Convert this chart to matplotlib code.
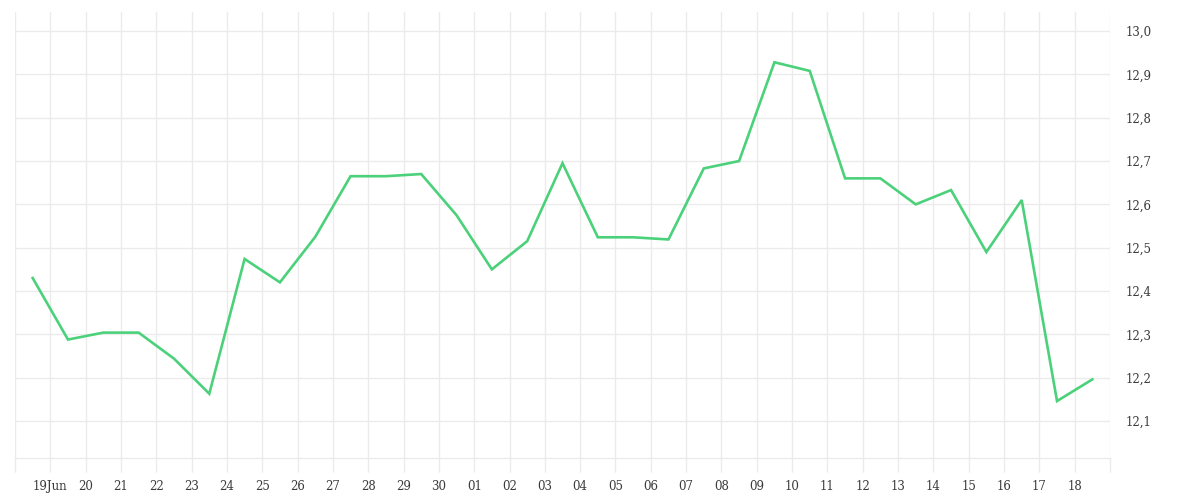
import numpy as np
import pandas as pd
import matplotlib
matplotlib.use('Agg')
import matplotlib.pyplot as plt
import matplotlib.dates as mdates

# daily values (noon of each day), 18 Jun - 18 Jul
dates = pd.date_range('2024-06-18 12:00', '2024-07-18 12:00', freq='D')
values = [12.43, 12.288, 12.304, 12.304, 12.244, 12.163, 12.474, 12.42, 12.525, 12.665,
          12.665, 12.67, 12.575, 12.45, 12.515, 12.695, 12.524, 12.524, 12.519, 12.683,
          12.70, 12.928, 12.908, 12.66, 12.66, 12.60, 12.633, 12.49, 12.61, 12.146,
          12.196]

tick_days = pd.date_range('2024-06-19', '2024-07-18', freq='D')
tick_labels = ['19Jun'] + [d.strftime('%d') for d in tick_days[1:]]
grid_days = pd.date_range('2024-06-18', '2024-07-19', freq='D')

y_ticks = [12.1, 12.2, 12.3, 12.4, 12.5, 12.6, 12.7, 12.8, 12.9, 13.0]
y_labels = [f'{v:.1f}'.replace('.', ',') for v in y_ticks]

grid_col = '#ebebeb'
text_col = '#3a3a3a'
font = 'DejaVu Serif'

fig = plt.figure(figsize=(12, 5), dpi=100)
ax = fig.add_axes([0.0125, 0.084, 0.9125, 0.892])

ax.plot(dates, values, color='#4cd17b', linewidth=1.9, solid_joinstyle='miter')

ax.set_xlim(grid_days[0], grid_days[-1])
ax.set_ylim(12.0146, 13.044)

# vertical grid lines at every day boundary
for d in grid_days:
    ax.axvline(d, color=grid_col, linewidth=1, zorder=0)
for v in y_ticks:
    ax.axhline(v, color=grid_col, linewidth=1, zorder=0)

ax.set_xticks(grid_days, minor=True)
ax.set_xticks(tick_days)
ax.set_xticklabels(tick_labels)
ax.tick_params(axis='x', which='both', length=10, color=grid_col, width=1,
               labelsize=8.5, labelcolor=text_col, pad=6)
for lbl in ax.get_xticklabels():
    lbl.set_fontfamily(font)

ax.yaxis.tick_right()
ax.set_yticks(y_ticks)
ax.set_yticklabels(y_labels)
ax.tick_params(axis='y', length=0, labelsize=8.5, labelcolor=text_col, pad=11.5)
for lbl in ax.get_yticklabels():
    lbl.set_fontfamily(font)
    lbl.set_va('center_baseline')

for side in ['top', 'left', 'right']:
    ax.spines[side].set_visible(False)
ax.spines['bottom'].set_color(grid_col)
ax.spines['bottom'].set_linewidth(1)

plt.savefig('out.png', dpi=100)
